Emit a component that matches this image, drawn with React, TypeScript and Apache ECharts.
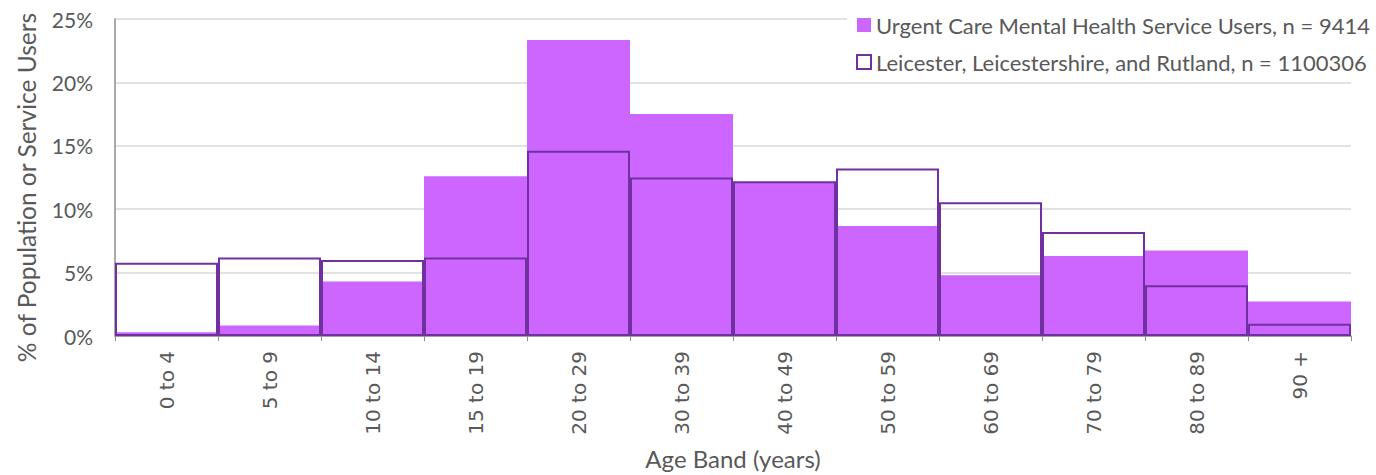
import React, { useEffect, useRef } from "react";
import * as echarts from "echarts";

const categories = ["0 to 4", "5 to 9", "10 to 14", "15 to 19", "20 to 29", "30 to 39", "40 to 49", "50 to 59", "60 to 69", "70 to 79", "80 to 89", "90 +"];
const serviceUsers = [0.3, 0.83, 4.3, 12.6, 23.35, 17.5, 12.1, 8.67, 4.8, 6.3, 6.74, 2.73];
const population = [5.78, 6.2, 6.0, 6.2, 14.6, 12.5, 12.2, 13.2, 10.55, 8.2, 4.0, 0.96];
const seriesNames = [
  "Urgent Care Mental Health Service Users, n = 9414",
  "Leicester, Leicestershire, and Rutland, n = 1100306",
];

const FILL = "#CC66FF";
const LINE = "#7030A0";
const TEXT = "#595959";
const FONT = "Lato, 'Open Sans', sans-serif";

export default function App() {
  const ref = useRef<HTMLDivElement>(null);
  useEffect(() => {
    if (!ref.current) return;
    const chart = echarts.init(ref.current, undefined, { renderer: "svg" });
    chart.setOption({
      animation: false,
      backgroundColor: "#ffffff",
      grid: { left: 115, right: 25, top: 19, bottom: 136, containLabel: false },
      legend: {
        orient: "vertical",
        left: 847,
        top: 9,
        padding: [5, 6, 5, 9],
        backgroundColor: "#ffffff",
        itemWidth: 14,
        itemHeight: 14,
        itemGap: 15,
        textStyle: { color: TEXT, fontSize: 22, fontFamily: FONT },
        data: [
          { name: seriesNames[0], icon: "rect", itemStyle: { color: FILL, borderWidth: 0 } },
          { name: seriesNames[1], icon: "rect", itemStyle: { color: "#ffffff", borderColor: LINE, borderWidth: 2 } },
        ],
      },
      xAxis: {
        type: "category",
        data: categories,
        boundaryGap: true,
        name: "Age Band (years)",
        nameLocation: "middle",
        nameGap: 110,
        nameTextStyle: { color: TEXT, fontSize: 24, fontFamily: FONT, verticalAlign: "top" },
        axisLine: { show: true, lineStyle: { color: "#8c8c8c", width: 1.5 } },
        axisTick: { show: true, alignWithLabel: false, length: 5, lineStyle: { color: "#8c8c8c" } },
        axisLabel: { rotate: 90, margin: 15, color: TEXT, fontSize: 20, fontFamily: "'DejaVu Sans', sans-serif", interval: 0 },
        splitLine: { show: false },
      },
      yAxis: {
        type: "value",
        min: 0,
        max: 25,
        interval: 5,
        name: "% of Population or Service Users",
        nameLocation: "middle",
        nameGap: 76,
        nameTextStyle: { color: TEXT, fontSize: 24.5, fontFamily: FONT, padding: [0, 20, 0, 0] },
        axisLine: { show: true, lineStyle: { color: "#8c8c8c", width: 1.5 } },
        axisTick: { show: false },
        axisLabel: { formatter: "{value}%", color: TEXT, fontSize: 21, fontFamily: FONT, margin: 22 },
        splitLine: { show: true, lineStyle: { color: "#d9d9d9", width: 1.5 } },
      },
      series: [
        {
          name: seriesNames[0],
          type: "bar",
          data: serviceUsers,
          barWidth: "100%",
          barGap: "-100%",
          itemStyle: { color: FILL },
          z: 2,
        },
        {
          name: seriesNames[1],
          type: "bar",
          data: population,
          barWidth: "100%",
          barGap: "-100%",
          itemStyle: { color: "rgba(0,0,0,0)", borderColor: LINE, borderWidth: 2 },
          z: 3,
        },
      ],
    });
    return () => chart.dispose();
  }, []);
  return (
    <div
      ref={ref}
      style={{ position: "absolute", left: 0, top: 0, width: 1376, height: 475 }}
    />
  );
}
